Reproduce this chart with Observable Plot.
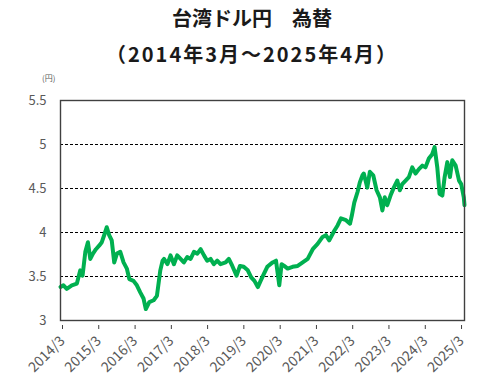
<!DOCTYPE html>
<html><head><meta charset="utf-8">
<script src="https://cdn.jsdelivr.net/npm/d3@7"></script>
<script src="https://cdn.jsdelivr.net/npm/@observablehq/plot@0.6"></script>
<style>
body{margin:0;background:#fff;}
#wrap{position:relative;width:496px;height:384px;overflow:hidden;background:#fff;font-family:"Noto Sans CJK JP","Noto Sans",sans-serif;}
.t{position:absolute;left:4px;width:496px;text-align:center;font-weight:bold;color:#1a1a1a;white-space:nowrap;}
#title{top:5px;font-size:20px;line-height:26px;}
#sub{top:41px;font-size:20px;line-height:26px;letter-spacing:2px;}
#unit{position:absolute;left:42px;top:72px;font-size:8px;color:#595959;}
#chart{position:absolute;left:0;top:80px;}
</style></head>
<body><div id="wrap">
<div class="t" id="title">台湾ドル円　為替</div>
<div class="t" id="sub">（2014年3月～2025年4月）</div>
<div id="unit">(円)</div>
<div id="chart"></div>
</div>
<script>
const dates = ["2014-03-01","2014-03-31","2014-05-03","2014-06-23","2014-08-13","2014-09-16","2014-10-09","2014-11-06","2014-12-02","2014-12-26","2015-01-22","2015-02-21","2015-03-25","2015-04-21","2015-05-18","2015-06-10","2015-07-04","2015-07-30","2015-08-24","2015-09-20","2015-10-24","2015-11-26","2015-12-29","2016-01-23","2016-03-05","2016-04-08","2016-05-12","2016-06-14","2016-07-07","2016-08-11","2016-09-24","2016-10-27","2016-11-30","2016-12-23","2017-01-06","2017-02-10","2017-03-13","2017-04-16","2017-05-19","2017-06-22","2017-07-25","2017-08-28","2017-10-01","2017-11-04","2017-12-08","2018-01-10","2018-02-13","2018-03-17","2018-04-20","2018-05-23","2018-06-26","2018-07-29","2018-09-19","2018-10-21","2018-11-25","2019-01-07","2019-02-10","2019-03-20","2019-04-30","2019-06-03","2019-07-06","2019-08-09","2019-09-06","2019-10-09","2019-11-12","2020-01-05","2020-02-08","2020-03-12","2020-04-04","2020-05-01","2020-06-04","2020-07-24","2020-09-13","2020-11-03","2020-12-23","2021-02-12","2021-04-02","2021-05-22","2021-06-24","2021-07-28","2021-09-17","2021-10-20","2021-11-23","2022-01-13","2022-02-22","2022-03-12","2022-04-06","2022-05-09","2022-06-01","2022-06-28","2022-07-11","2022-08-15","2022-09-10","2022-10-14","2022-11-17","2022-12-20","2023-01-14","2023-02-07","2023-03-04","2023-04-06","2023-05-09","2023-06-13","2023-07-09","2023-08-02","2023-09-05","2023-10-08","2023-11-11","2023-12-14","2024-01-17","2024-02-21","2024-03-23","2024-04-26","2024-05-30","2024-06-23","2024-07-20","2024-08-12","2024-09-09","2024-10-02","2024-10-29","2024-11-25","2024-12-18","2025-01-21","2025-02-24","2025-03-18","2025-04-13","2025-04-20"];
const rates = [3.38,3.40,3.36,3.40,3.42,3.57,3.51,3.78,3.89,3.70,3.76,3.81,3.85,3.89,3.98,4.06,3.97,3.91,3.66,3.76,3.78,3.66,3.59,3.47,3.45,3.40,3.32,3.25,3.13,3.21,3.23,3.28,3.57,3.68,3.70,3.64,3.74,3.64,3.74,3.70,3.66,3.72,3.70,3.78,3.76,3.81,3.74,3.68,3.70,3.64,3.68,3.64,3.66,3.70,3.62,3.51,3.62,3.61,3.57,3.49,3.45,3.38,3.45,3.53,3.61,3.66,3.68,3.40,3.64,3.62,3.59,3.61,3.62,3.66,3.70,3.81,3.87,3.95,3.97,3.91,4.02,4.08,4.16,4.14,4.10,4.19,4.34,4.46,4.57,4.65,4.67,4.51,4.69,4.65,4.48,4.40,4.25,4.40,4.31,4.42,4.51,4.59,4.48,4.55,4.59,4.63,4.74,4.67,4.72,4.76,4.74,4.84,4.89,4.97,4.74,4.44,4.42,4.63,4.80,4.63,4.82,4.76,4.59,4.55,4.40,4.31];
const xTickLabels = ["2014/3","2015/3","2016/3","2017/3","2018/3","2019/3","2020/3","2021/3","2022/3","2023/3","2024/3","2025/3"];
const yTicks = [3,3.5,4,4.5,5,5.5];
const gridValues = [3.5,4,4.5,5];

const data = dates.map((d,i)=>({date:new Date(d+"T00:00:00"), rate:rates[i]}));
const tickDates = xTickLabels.map(s=>{const [y,m]=s.split("/").map(Number);return new Date(y,m-1,1);});
const labelOf = new Map(tickDates.map((d,i)=>[+d,xTickLabels[i]]));

const chart = Plot.plot({
  width:496, height:304,
  marginLeft:60, marginRight:32, marginTop:20, marginBottom:64,
  style:{fontSize:"13px",color:"#595959",fontFamily:"'Noto Sans CJK JP','Noto Sans',sans-serif",background:"transparent"},
  x:{type:"time",domain:[new Date(2014,2,1),new Date(2025,3,20)]},
  y:{domain:[3,5.5]},
  marks:[
    Plot.ruleY(gridValues,{stroke:"#000",strokeDasharray:"3,2",strokeWidth:1}),
    Plot.line(data,{x:"date",y:"rate",stroke:"#00B050",strokeWidth:4,strokeLinejoin:"round"}),
    Plot.frame({stroke:"#404040",strokeWidth:1.4}),
    Plot.axisY(yTicks,{tickSize:0,tickPadding:14,tickFormat:d=>String(d),fill:"#595959",label:null}),
    Plot.axisX(tickDates,{tickSize:4,tickPadding:9,tickRotate:-45,fontSize:14,dy:5,dx:2,tickFormat:d=>labelOf.get(+d),stroke:"#404040",fill:"#595959",label:null})
  ]
});
document.getElementById("chart").appendChild(chart);
</script>
</body></html>
